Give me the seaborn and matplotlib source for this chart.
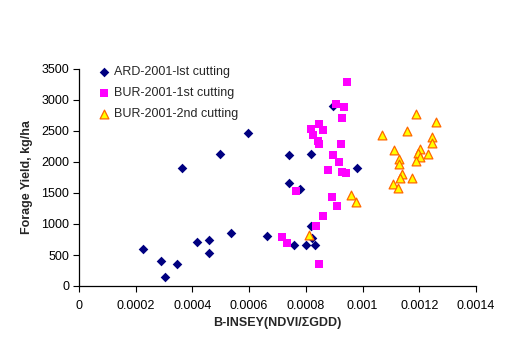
import numpy as np
import matplotlib
matplotlib.use('Agg')
import matplotlib.pyplot as plt
import seaborn as sns

# values
ard_x = [0.000225, 0.000288, 0.000304, 0.000345, 0.000363, 0.000415, 0.000457, 0.000457,
         0.000497, 0.000535, 0.000596, 0.000662, 0.000742, 0.000741, 0.000758, 0.00078,
         0.0008, 0.000817, 0.000817, 0.000821, 0.000833, 0.000895, 0.00098]
ard_y = [595, 410, 140, 360, 1905, 715, 740, 535, 2130, 860, 2470, 810, 2120, 1665,
         665, 1570, 665, 2135, 975, 775, 665, 2910, 1905]

bur1_x = [0.000715, 0.000733, 0.000765, 0.000817, 0.000824, 0.000836, 0.000842, 0.000847,
          0.000848, 0.000847, 0.00086, 0.000861, 0.000877, 0.000891, 0.000895, 0.000906,
          0.00091, 0.000916, 0.000923, 0.000927, 0.000927, 0.000935, 0.000942, 0.000944]
bur1_y = [795, 700, 1535, 2530, 2435, 975, 2340, 2610, 2295, 360, 1135, 2520, 1875,
          1440, 2120, 2930, 1295, 2005, 2295, 2715, 1845, 2890, 1830, 3295]

bur2_x = [0.001188, 0.00126, 0.00107, 0.001158, 0.001244, 0.001244, 0.001202, 0.00111,
          0.001197, 0.00123, 0.001129, 0.001202, 0.001188, 0.001129, 0.00114, 0.001133,
          0.001176, 0.001109, 0.001126, 0.000958, 0.000977, 0.000811]
bur2_y = [2775, 2645, 2435, 2500, 2410, 2300, 2215, 2195, 2140, 2130, 2045, 2075,
          2020, 1970, 1805, 1735, 1735, 1645, 1575, 1475, 1360, 825]

x_ticks = [0, 0.0002, 0.0004, 0.0006, 0.0008, 0.001, 0.0012, 0.0014]
x_tick_labels = ['0', '0.0002', '0.0004', '0.0006', '0.0008', '0.001', '0.0012', '0.0014']
y_ticks = [0, 500, 1000, 1500, 2000, 2500, 3000, 3500]

sns.set_style('ticks')
plt.rcParams['font.family'] = ['Liberation Sans', 'DejaVu Sans']

fig = plt.figure(figsize=(5.08, 3.56), dpi=100)
ax = fig.add_axes([79 / 508, 1 - 286 / 356, 397 / 508, 217 / 356])

sns.scatterplot(x=ard_x, y=ard_y, marker='D', color='#000080', s=24, linewidth=0,
                label='ARD-2001-lst cutting', ax=ax)
sns.scatterplot(x=bur1_x, y=bur1_y, marker='s', color='#FF00FF', s=36, linewidth=0,
                label='BUR-2001-1st cutting', ax=ax)
sns.scatterplot(x=bur2_x, y=bur2_y, marker='^', color='#FFFF00', edgecolor='#FF6600',
                s=40, linewidth=0.9, label='BUR-2001-2nd cutting', ax=ax)

ax.set_xlim(0, 0.0014)
ax.set_ylim(0, 3500)
ax.set_xticks(x_ticks)
ax.set_xticklabels(x_tick_labels)
ax.set_yticks(y_ticks)
ax.tick_params(direction='out', length=4, width=0.8, colors='black', labelsize=9)
ax.tick_params(axis='x', pad=6)
ax.tick_params(axis='y', pad=3)
sns.despine(ax=ax)
for side in ['left', 'bottom']:
    ax.spines[side].set_color('black')
    ax.spines[side].set_linewidth(0.9)

ax.set_xlabel('B-INSEY(NDVI/ΣGDD)', fontsize=9, fontweight='bold', va='center')
ax.set_ylabel('Forage Yield, kg/ha', fontsize=9, fontweight='bold', va='center')
ax.xaxis.set_label_coords(0.5, (286 - 323) / 217)
ax.yaxis.set_label_coords((27 - 79) / 397, 0.5)

ax.legend(loc='upper left', bbox_to_anchor=(98 / 508, 1 - 66 / 356),
          bbox_transform=fig.transFigure, frameon=False, fontsize=9,
          handlelength=1.0, handletextpad=0.3, borderpad=0, borderaxespad=0,
          labelspacing=0.72)

fig.savefig('out.png', dpi=100)
